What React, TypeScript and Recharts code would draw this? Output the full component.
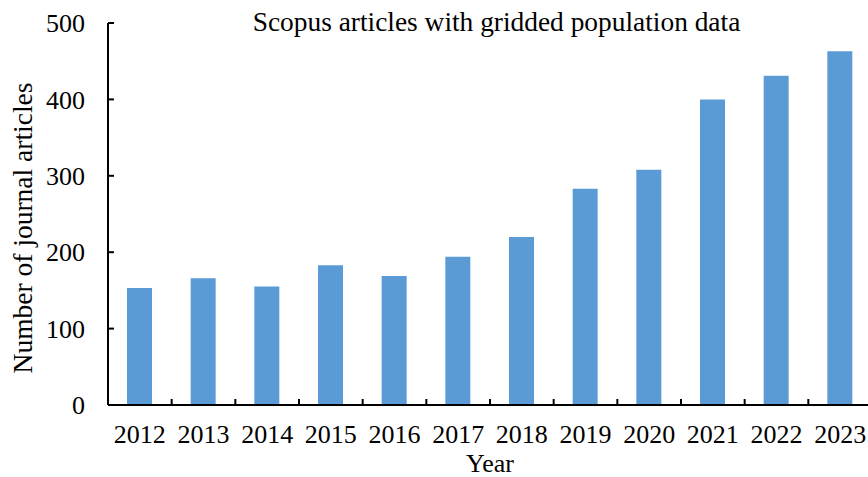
import { Bar, BarChart, XAxis, YAxis } from "recharts";

const years = ["2012", "2013", "2014", "2015", "2016", "2017", "2018", "2019", "2020", "2021", "2022", "2023"];
const articles = [153, 166, 155, 183, 169, 194, 220, 283, 308, 400, 431, 463];
const yTicks = [0, 100, 200, 300, 400, 500];

const data = years.map((year, i) => ({ year, articles: articles[i] }));

const font = '"Liberation Serif", "Times New Roman", serif';
const LABEL_GAP = 20;

// year label plus an inward tick mark on the left edge of each band
function YearTick(props: any) {
  const { x, y, payload, width, visibleTicksCount } = props;
  const half = payload.offset || width / visibleTicksCount / 2;
  const axisY = y - LABEL_GAP;
  return (
    <g>
      <line
        x1={x - half}
        x2={x - half}
        y1={axisY}
        y2={axisY - 6}
        stroke="#000"
        strokeWidth={2}
      />
      <text
        x={x}
        y={y}
        dy="0.71em"
        textAnchor="middle"
        fill="#000"
        fontSize={26}
        fontFamily={font}
      >
        {payload.value}
      </text>
    </g>
  );
}

export default function App() {
  return (
    <div
      style={{
        position: "absolute",
        left: 0,
        top: 0,
        width: 868,
        height: 477,
        overflow: "hidden",
        background: "#fff",
        fontFamily: font,
      }}
    >
      <BarChart
        width={872}
        height={477}
        data={data}
        margin={{ top: 23, right: 0, left: 0, bottom: 0 }}
      >
        <XAxis
          dataKey="year"
          height={72}
          tickLine={false}
          tickSize={0}
          tickMargin={LABEL_GAP}
          axisLine={{ stroke: "#000", strokeWidth: 2 }}
          tick={<YearTick />}
          interval={0}
        />
        <YAxis
          width={108}
          domain={[0, 500]}
          ticks={yTicks}
          tickSize={-6}
          tickMargin={29}
          axisLine={{ stroke: "#000", strokeWidth: 2 }}
          tickLine={{ stroke: "#000", strokeWidth: 2 }}
          tick={{ fill: "#000", fontSize: 26, fontFamily: font }}
        />
        <Bar dataKey="articles" fill="#5B9BD5" barSize={25} isAnimationActive={false} />
      </BarChart>
      <div
        style={{
          position: "absolute",
          left: 0,
          width: 993,
          top: 7,
          textAlign: "center",
          fontSize: 27.4,
          lineHeight: "30px",
          color: "#000",
          whiteSpace: "nowrap",
        }}
      >
        Scopus articles with gridded population data
      </div>
      <div
        style={{
          position: "absolute",
          left: 290,
          width: 400,
          top: 451,
          textAlign: "center",
          fontSize: 26,
          lineHeight: "26px",
          color: "#000",
        }}
      >
        Year
      </div>
      <div
        style={{
          position: "absolute",
          left: 23 - 200,
          top: 228 - 13,
          width: 400,
          textAlign: "center",
          fontSize: 27.5,
          lineHeight: "26px",
          color: "#000",
          transform: "rotate(-90deg)",
        }}
      >
        Number of journal articles
      </div>
    </div>
  );
}
